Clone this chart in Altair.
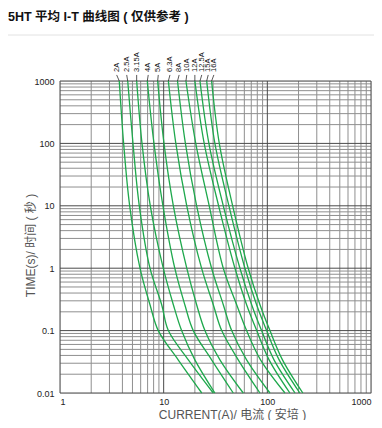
import altair as alt
import pandas as pd

# ---- data ----
ratings = ["2A", "2.5A", "3.15A", "4A", "5A", "6.3A", "8A", "10A", "12A", "12.5A", "15A", "16A"]
times = [1000, 100, 10, 1, 0.26, 0.1, 0.034, 0.01]
cur_t1000 = [3.73, 4.5, 5.49, 6.95, 8.75, 11.1, 13.6, 16.4, 20.0, 22.4, 26.0, 29.0]
cur_t100 = [4.11, 5.06, 6.18, 8.06, 10.07, 13.1, 16.2, 20.4, 24.6, 27.3, 31.2, 34.4]
cur_t10 = [4.70, 5.82, 7.43, 9.84, 12.4, 16.7, 20.8, 27.5, 33.9, 37.6, 42.6, 46.3]
cur_t1 = [5.91, 7.38, 9.91, 12.8, 16.7, 23.2, 29.0, 37.6, 48.7, 54.4, 60.8, 65.4]
cur_t026 = [7.38, 9.57, 12.4, 16.0, 20.8, 30.1, 37.6, 50.6, 63.1, 70.6, 78.8, 84.9]
cur_t01 = [8.87, 11.1, 14.9, 19.3, 25.0, 36.3, 45.3, 63.1, 79.0, 88.0, 98.5, 106]
cur_t0034 = [13.8, 17.3, 20.0, 29.0, 34.9, 52.4, 63.1, 86.0, 104, 116, 130, 140]
cur_t001 = [23.3, 30.1, 31.2, 46.9, 58.6, 84.9, 106, 148, 165, 185, 206, 220]
label_x = [3.52, 4.40, 5.49, 7.10, 8.87, 11.5, 14.1, 16.7, 20.0, 23.3, 26.9, 30.5]

x_ticks = [1, 10, 100, 1000]
y_ticks = [0.01, 0.1, 1, 10, 100, 1000]
minor_steps = [2, 3, 4, 5, 6, 7, 8, 9]

title_text = "5HT 平均 I-T 曲线图 ( 仅供参考 )"
x_title = "CURRENT(A)/ 电流 ( 安培 )"
y_title = "TIME(s)/ 时间 ( 秒 )"

# ---- tables ----
cols = [cur_t1000, cur_t100, cur_t10, cur_t1, cur_t026, cur_t01, cur_t0034, cur_t001]
rows = []
for i, r in enumerate(ratings):
    for t, col in zip(times, cols):
        rows.append({"rating": r, "time": t, "current": col[i]})
curves = pd.DataFrame(rows)

labels = pd.DataFrame({
    "rating": ratings,
    "lx": label_x,
    "cx": cur_t1000,
    "ly": [1400] * len(ratings),
    "ry": [1250] * len(ratings),
    "ry2": [1000] * len(ratings),
})

x_minor = pd.DataFrame({"current": [m * 10 ** k for k in range(0, 3) for m in minor_steps]})
y_minor = pd.DataFrame({"time": [m * 10.0 ** k for k in range(-2, 3) for m in minor_steps]})
x_major = pd.DataFrame({"current": x_ticks})
y_major = pd.DataFrame({"time": y_ticks})

FONT = "Liberation Sans, Arial, Noto Sans CJK SC"
xs = alt.Scale(type="log", domain=[1, 1000], nice=False)
ys = alt.Scale(type="log", domain=[0.01, 1000], nice=False)

x_axis = alt.Axis(values=x_ticks, format="~g", title=x_title, grid=False, ticks=False,
                  domain=False, labelFlush=True, labelPadding=4, labelFontSize=9,
                  labelColor="#222", labelFont=FONT, titleFont=FONT, titleFontSize=12,
                  titleFontWeight="normal", titleColor="#555", titleX=172, titleY=21,
                  titleAlign="center", titleBaseline="middle")
y_axis = alt.Axis(values=y_ticks, format="~g", title=y_title, grid=False, ticks=False,
                  domain=False, labelPadding=6, labelFontSize=9, labelColor="#222",
                  labelFont=FONT, titleFont=FONT, titleFontSize=12,
                  titleFontWeight="normal", titleColor="#555", titleX=-30, titleY=164,
                  titleAngle=270, titleAlign="center", titleBaseline="middle")

X = lambda f: alt.X(f, scale=xs, axis=x_axis)
Y = lambda f: alt.Y(f, scale=ys, axis=y_axis)

minor_col = "#8f8f8f"
major_col = "#4a4a4a"

vmin = alt.Chart(x_minor).mark_rule(color=minor_col, strokeWidth=1).encode(x=X("current:Q"))
hmin = alt.Chart(y_minor).mark_rule(color=minor_col, strokeWidth=1).encode(y=Y("time:Q"))
vmaj = alt.Chart(x_major).mark_rule(color=major_col, strokeWidth=1).encode(x=X("current:Q"))
hmaj = alt.Chart(y_major).mark_rule(color=major_col, strokeWidth=1).encode(y=Y("time:Q"))

lines = alt.Chart(curves).mark_line(color="#1ea84c", strokeWidth=1.3,
                                    interpolate="catmull-rom").encode(
    x=X("current:Q"),
    y=Y("time:Q"),
    detail="rating:N",
    order=alt.Order("current:Q"),
)

leaders = alt.Chart(labels).mark_rule(color="#111", strokeWidth=0.7).encode(
    x=X("lx:Q"), x2="cx:Q", y=Y("ry:Q"), y2="ry2:Q")

ltext = alt.Chart(labels).mark_text(angle=270, align="left", baseline="middle",
                                    fontSize=7.5, font=FONT, color="#111").encode(
    x=X("lx:Q"), y=Y("ly:Q"), text="rating:N")

title = alt.Chart(pd.DataFrame({"t": [title_text]})).mark_text(
    align="left", baseline="alphabetic", fontSize=12.5, fontWeight="bold", font=FONT,
    color="#111").encode(x=alt.value(-52), y=alt.value(-60), text="t:N")

sep = alt.Chart(pd.DataFrame({"a": [0]})).mark_rule(color="#e2e2e2", strokeWidth=1).encode(
    x=alt.value(-60), x2=alt.value(330), y=alt.value(-46))

chart = alt.layer(vmin, hmin, vmaj, hmaj, lines, leaders, ltext, title, sep).properties(
    width=311, height=312,
    autosize=alt.AutoSizeParams(type="none"),
    padding={"left": 52, "top": 73, "right": 3, "bottom": 27},
).configure_view(stroke=None).configure(background="white")

chart.save("out.html", embed_options={"renderer": "svg", "actions": False})
